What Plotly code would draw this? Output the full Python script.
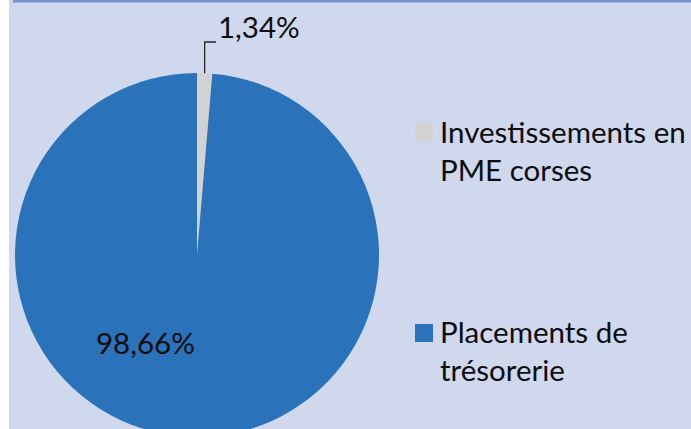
import math
import plotly.graph_objects as go

# ---- data ----
labels = ["Investissements en PME corses", "Placements de trésorerie"]
legend_lines = [["Investissements en", "PME corses"], ["Placements de", "trésorerie"]]
values = [1.34, 98.66]
colors = ["#D2D2D2", "#2A72B9"]

W, H = 691, 460          # figure taller than the window; bottom is cropped
BG = "#CFD8EC"
FONT = "Lato"
FS = 29.5

# pie geometry in pixels
cx, cy, r = 197, 255, 182

def px(x):
    return x / W

def py(y):
    return 1 - y / H

fig = go.Figure()
fig.add_trace(go.Pie(
    labels=labels,
    values=values,
    sort=False,
    direction="clockwise",
    rotation=0,
    marker=dict(colors=colors, line=dict(width=0)),
    textinfo="none",
    hoverinfo="label+percent",
    showlegend=False,
    domain=dict(x=[px(cx - r), px(cx + r)], y=[py(cy + r), py(cy - r)]),
))

total = sum(values)
fmt = lambda v: f"{v / total * 100:.2f}".replace(".", ",") + "%"

# leader line + label for the small slice
a = math.radians(values[0] / total * 360 / 2)
sx, sy = cx + r * math.sin(a), cy - r * math.cos(a)
ey = 42
hx = 216
shapes = [
    dict(type="rect", xref="paper", yref="paper", x0=0, x1=px(9), y0=0, y1=1,
         fillcolor="white", line=dict(width=0), layer="above"),
    dict(type="rect", xref="paper", yref="paper", x0=px(13), x1=1, y0=py(2.5), y1=1,
         fillcolor="#7294D3", line=dict(width=0), layer="above"),
    dict(type="path", xref="paper", yref="paper",
         path=f"M {px(sx)} {py(sy)} L {px(sx)} {py(ey)} L {px(hx)} {py(ey)}",
         line=dict(color="#262626", width=1.3)),
]
annotations = [
    dict(text=fmt(values[0]), x=px(216), y=py(27), xref="paper", yref="paper",
         xanchor="left", yanchor="middle", showarrow=False,
         font=dict(family=FONT, size=FS, color="#0D0D0D")),
    dict(text=fmt(values[1]), x=px(145), y=py(342), xref="paper", yref="paper",
         xanchor="center", yanchor="middle", showarrow=False,
         font=dict(family=FONT, size=FS, color="#0D0D0D")),
]

# legend (manual, to match the wide spacing)
leg_sq_y = [123, 324]
leg_txt_dy = [-11, -12]
for i, lines in enumerate(legend_lines):
    y0 = leg_sq_y[i]
    shapes.append(dict(type="rect", xref="paper", yref="paper",
                       x0=px(415), x1=px(433), y0=py(y0 + 18), y1=py(y0),
                       fillcolor=colors[i], line=dict(width=0)))
    annotations.append(dict(text="<br>".join(lines), x=px(438), y=py(y0 + leg_txt_dy[i]),
                            xref="paper", yref="paper", xanchor="left", yanchor="top",
                            align="left", showarrow=False,
                            font=dict(family=FONT, size=FS, color="#0D0D0D")))

fig.update_layout(
    width=W, height=H,
    margin=dict(l=0, r=0, t=0, b=0),
    paper_bgcolor=BG,
    plot_bgcolor=BG,
    shapes=shapes,
    annotations=annotations,
    showlegend=False,
)

fig.write_html("out.html",
               config={"displayModeBar": False},
               post_script="document.body.style.margin='0';document.body.style.overflow='hidden';"
                           "document.documentElement.style.overflow='hidden';")
